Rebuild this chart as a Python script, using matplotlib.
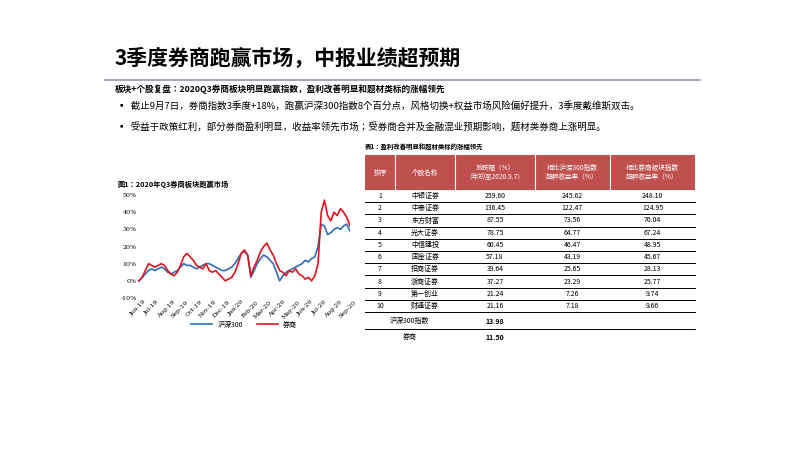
import matplotlib
matplotlib.use("Agg")
import matplotlib.pyplot as plt
import matplotlib.dates as mdates
from matplotlib import font_manager as fm
import pandas as pd

cjk = None
for f in fm.fontManager.ttflist:
    if "CJK" in f.name and "SC" in f.name:
        cjk = f.name; break
if cjk is None:
    for f in fm.fontManager.ttflist:
        if "CJK" in f.name:
            cjk = f.name; break
plt.rcParams["font.family"] = [cjk or "Noto Sans CJK SC", "DejaVu Sans"]

title = "3季度券商跑赢市场，中报业绩超预期"
subtitle = "板块+个股复盘：2020Q3券商板块明显跑赢指数，盈利改善明显和题材类标的涨幅领先"
bullets = ["截止9月7日，券商指数3季度+18%，跑赢沪深300指数8个百分点，风格切换+权益市场风险偏好提升，3季度戴维斯双击。",
           "受益于政策红利，部分券商盈利明显，收益率领先市场；受券商合并及金融混业预期影响，题材类券商上涨明显。"]
chart_title = "图1：2020年Q3券商板块跑赢市场"
series_names = ["沪深300", "券商"]
hs300 = [0,2,4,6, 7,6,7,8,7, 5,4,5,6, 8,10,9,9,8, 7,8,9,10, 10,9,8,7, 6,6,7,8,10,
         13,16,17,15, 2,6,10,13, 15,14,12,10,5, 0,3,5,6, 7,8,9,10, 12,11,13,14,20,
         33,32,27,28,30,31,30,32,33,29]
broker = [0,2,6,10, 9,8,9,10,9, 6,4,3,5, 9,14,16,14,12, 9,8,7,10, 6,5,6,4, 2,0,1,2,5,
          10,16,18,15, 3,8,12,17, 20,22,18,15,10, 6,5,3,6, 5,7,4,3, 1,2,0,3,10,
          40,47,38,35,40,38,42,40,37,32]
dates = pd.date_range("2019-06-03", periods=len(broker), freq="7D")

table_title = "表1：盈利改善明显和题材类标的涨幅领先"
headers = ["排序", "个股名称", "涨跌幅（%）\n（年初至2020.9.7）", "相比沪深300指数\n超额收益率（%）", "相比券商板块指数\n超额收益率（%）"]
ranks = ["1","2","3","4","5","6","7","8","9","10"]
names = ["中银证券","中泰证券","东方财富","光大证券","中信建投","国金证券","招商证券","浙商证券","第一创业","财通证券"]
chg = ["259.60","136.45","87.55","78.75","60.45","57.18","39.64","37.27","21.24","21.16"]
vs300 = ["245.62","122.47","73.56","64.77","46.47","43.19","25.65","23.29","7.26","7.18"]
vsbk = ["248.10","124.95","76.04","67.24","48.95","45.67","28.13","25.77","9.74","9.66"]
extra_names = ["沪深300指数", "券商"]
extra_vals = ["13.98", "11.50"]

W, H = 800, 450
fig = plt.figure(figsize=(8, 4.5), dpi=100)
def fx(x): return x / W
def fy(y): return 1 - y / H

fig.text(fx(115), fy(58), title, fontsize=15, fontweight="bold", va="center")
fig.add_artist(plt.Line2D([fx(105), fx(700)], [fy(80), fy(80)], color="#8a9bb0", lw=1.2))
fig.text(fx(115), fy(89), subtitle, fontsize=6.2, va="center", fontweight="bold")
for i, b in enumerate(bullets):
    fig.text(fx(117), fy(106 + 21 * i), "▪  " + b, fontsize=6.8, va="center")

# chart
fig.text(fx(118), fy(184), chart_title, fontsize=5.2, fontweight="bold", va="center")
ax = fig.add_axes([fx(138), fy(298), fx(212), fy(195) - fy(298)])
ax.plot(dates, hs300, color="#2f6db5", lw=1.2, label=series_names[0])
ax.plot(dates, broker, color="#e0141e", lw=1.2, label=series_names[1])
ax.set_ylim(-10, 50)
ax.set_yticks(range(-10, 51, 10))
ax.set_yticklabels([f"{v}%" for v in range(-10, 51, 10)], fontsize=4.5, family="DejaVu Serif")
ax.xaxis.set_major_locator(mdates.MonthLocator())
ax.xaxis.set_major_formatter(mdates.DateFormatter("%b-%y"))
ax.set_xlim(pd.Timestamp("2019-06-01"), dates[-1])
for lab in ax.get_xticklabels():
    lab.set_rotation(45); lab.set_fontsize(4.5); lab.set_family("DejaVu Serif")
ax.tick_params(length=0, pad=1)
for s in ax.spines.values():
    s.set_visible(False)
ax.legend(loc="upper center", bbox_to_anchor=(0.5, -0.16), ncol=2, frameon=False, fontsize=5, handlelength=3)

# table
fig.text(fx(365), fy(147), table_title, fontsize=4.6, fontweight="bold", va="center")
cols = [365, 395, 455, 535, 610, 695]
hdr_top, hdr_bot = 155, 190
fig.add_artist(plt.Rectangle((fx(cols[0]), fy(hdr_bot)), fx(cols[-1] - cols[0]), fy(hdr_top) - fy(hdr_bot),
                             facecolor="#c0504d", edgecolor="none"))
for c in cols[1:-1]:
    fig.add_artist(plt.Line2D([fx(c), fx(c)], [fy(hdr_top), fy(hdr_bot)], color="white", lw=0.8))
for j, h in enumerate(headers):
    fig.text(fx((cols[j] + cols[j + 1]) / 2), fy((hdr_top + hdr_bot) / 2), h, fontsize=4.8, color="white",
             ha="center", va="center", linespacing=1.3)
row_h = 12.2
for i in range(10):
    yc = hdr_bot + row_h * (i + 0.5)
    vals = [ranks[i], names[i], chg[i], vs300[i], vsbk[i]]
    for j, v in enumerate(vals):
        fig.text(fx((cols[j] + cols[j + 1]) / 2), fy(yc), v, fontsize=5, ha="center", va="center")
    yb = hdr_bot + row_h * (i + 1)
    fig.add_artist(plt.Line2D([fx(cols[0]), fx(cols[-1])], [fy(yb), fy(yb)], color="black", lw=0.7))
for k in range(2):
    yc = hdr_bot + row_h * 10 + 9 + 16 * k
    fig.text(fx(410), fy(yc), extra_names[k], fontsize=5, ha="center", va="center")
    fig.text(fx(495), fy(yc), extra_vals[k], fontsize=5, ha="center", va="center", fontweight="bold")
    yb = yc + 8
    if k == 0:
        fig.add_artist(plt.Line2D([fx(cols[0]), fx(cols[-1])], [fy(yb), fy(yb)], color="black", lw=0.7))

fig.savefig("out.png", dpi=100)
